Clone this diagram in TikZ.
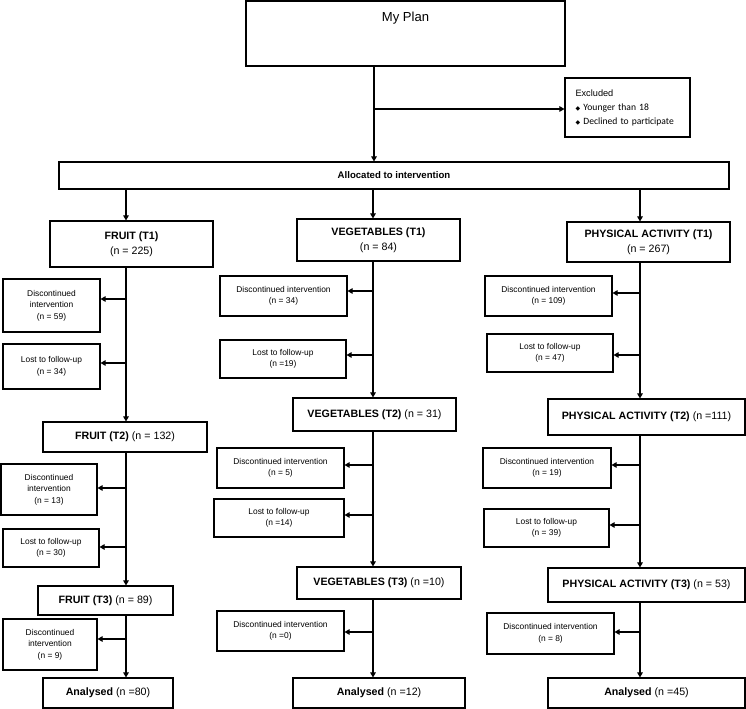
\documentclass[tikz,border=0pt]{standalone}
\usepackage{fontspec}
\setmainfont{Liberation Sans}
\newfontfamily\carlitofont{Carlito}
\newfontfamily\dingfont{DejaVu Sans}
\usetikzlibrary{positioning,arrows.meta}

\newcommand{\exbullet}{{\dingfont\fontsize{4.5}{5}\selectfont ◆}\hspace{2.5pt}}

\begin{document}
\begin{tikzpicture}[x=0.75pt, y=-0.75pt,
  every node/.style={font=\fontsize{6.3}{8.7}\selectfont},
  box/.style={draw, line width=0.8pt, inner sep=1pt, align=center},
  sz/.style 2 args={minimum width=#1*0.75pt, minimum height=#2*0.75pt},
  stage/.style={box, font=\fontsize{8}{11.2}\selectfont},
  arr/.style={-{Triangle[length=3.8pt,width=4.2pt]}, line width=0.8pt}
]
  \useasboundingbox (0,0) rectangle (746,709);

  % top part
  \node[box, sz={319}{65},
        label={[font=\fontsize{9.8}{12}\selectfont, anchor=center, yshift=-13.5pt]north:My Plan}]
        (plan) at (405.5,33.5) {};
  \node[box, sz={125}{59}, align=left, text width=78pt, inner xsep=7.5pt,
        font=\fontsize{6.9}{10.5}\selectfont] (excl) at (627.5,107.5)
        {Excluded\\
         {\carlitofont\fontsize{7.2}{10}\selectfont\exbullet Younger than 18}\\
         {\carlitofont\fontsize{7.2}{10}\selectfont\exbullet Declined to participate}};
  \node[box, sz={670}{27}, font=\bfseries\fontsize{7.2}{9}\selectfont]
        (alloc) at (394,175.5) {Allocated to intervention};

  % spines of the three arms
  \coordinate (ms) at (374,0);
  \coordinate (fs) at (126,0);
  \coordinate (vs) at (373,0);
  \coordinate (ps) at (640,0);

  % stages
  \node[stage, sz={163}{46}] (f1) at (131.5,244) {\textbf{FRUIT (T1)}\\(n = 225)};
  \node[stage, sz={164}{30}] (f2) at (125,437) {\textbf{FRUIT (T2)} (n = 132)};
  \node[stage, sz={135}{29}] (f3) at (105.5,600.5) {\textbf{FRUIT (T3)} (n = 89)};
  \node[stage, sz={130}{30}] (fa) at (108,693) {\textbf{Analysed} (n =80)};

  \node[stage, sz={163}{42}] (v1) at (378.5,240) {\textbf{VEGETABLES (T1)}\\(n = 84)};
  \node[stage, sz={163}{33}] (v2) at (374.5,414.5) {\textbf{VEGETABLES (T2)} (n = 31)};
  \node[stage, sz={164}{32}] (v3) at (379,583) {\textbf{VEGETABLES (T3)} (n =10)};
  \node[stage, sz={172}{30}] (va) at (379,693) {\textbf{Analysed} (n =12)};

  \node[stage, sz={163}{40}] (p1) at (648.5,242) {\textbf{PHYSICAL ACTIVITY (T1)}\\(n = 267)};
  \node[stage, sz={197}{36}] (p2) at (646.5,417) {\textbf{PHYSICAL ACTIVITY (T2)} (n =111)};
  \node[stage, sz={197}{34}] (p3) at (646.5,585) {\textbf{PHYSICAL ACTIVITY (T3)} (n = 53)};
  \node[stage, sz={197}{30}] (pa) at (646.5,693) {\textbf{Analysed} (n =45)};

  % drop-outs (last field: where the arrow meets the box)
  \foreach \n/\x/\y/\w/\h/\t/\ay in {
      fd1/51.5/305.5/97/53/{Discontinued\\intervention\\(n = 59)}/299,
      fl1/51.5/366.5/97/45/{Lost to follow-up\\(n = 34)}/363,
      fd2/49/489.5/96/51/{Discontinued\\intervention\\(n = 13)}/488,
      fl2/51/548/96/38/{Lost to follow-up\\(n = 30)}/547,
      fd3/50/644.5/94/51/{Discontinued\\intervention\\(n = 9)}/639,
      vd1/283.5/296/127/40/{Discontinued intervention\\(n = 34)}/291,
      vl1/283/359/126/38/{Lost to follow-up\\(n =19)}/355,
      vd2/280.5/468/127/40/{Discontinued intervention\\(n = 5)}/465,
      vl2/279/518/130/38/{Lost to follow-up\\(n =14)}/515,
      vd3/280.5/631/127/40/{Discontinued intervention\\(n =0)}/632,
      pd1/548.5/296/127/40/{Discontinued intervention\\(n = 109)}/293,
      pl1/550/353/126/38/{Lost to follow-up\\(n = 47)}/355,
      pd2/547/468/128/40/{Discontinued intervention\\(n = 19)}/465,
      pl2/546.5/528/125/38/{Lost to follow-up\\(n = 39)}/525,
      pd3/550.5/633.5/127/41/{Discontinued intervention\\(n = 8)}/632} {
    \node[box, sz={\w}{\h}] (\n) at (\x,\y) {\t};
    \coordinate (\n-in) at (0,\ay);
  }

  % connectors
  \draw[arr] (plan.south -| ms) -- (alloc.north -| ms);
  \coordinate (ex) at (0,109);
  \draw[arr] (ex -| ms) -- (ex -| excl.west);
  \foreach \a/\b/\s in {alloc/f1/fs, f1/f2/fs, f2/f3/fs, f3/fa/fs,
                        alloc/v1/vs, v1/v2/vs, v2/v3/vs, v3/va/vs,
                        alloc/p1/ps, p1/p2/ps, p2/p3/ps, p3/pa/ps} {
    \draw[arr] (\a.south -| \s) -- (\b.north -| \s);
  }
  \foreach \b/\s in {fd1/fs, fl1/fs, fd2/fs, fl2/fs, fd3/fs,
                     vd1/vs, vl1/vs, vd2/vs, vl2/vs, vd3/vs,
                     pd1/ps, pl1/ps, pd2/ps, pl2/ps, pd3/ps} {
    \draw[arr] (\b-in -| \s) -- (\b-in -| \b.east);
  }
\end{tikzpicture}
\end{document}
